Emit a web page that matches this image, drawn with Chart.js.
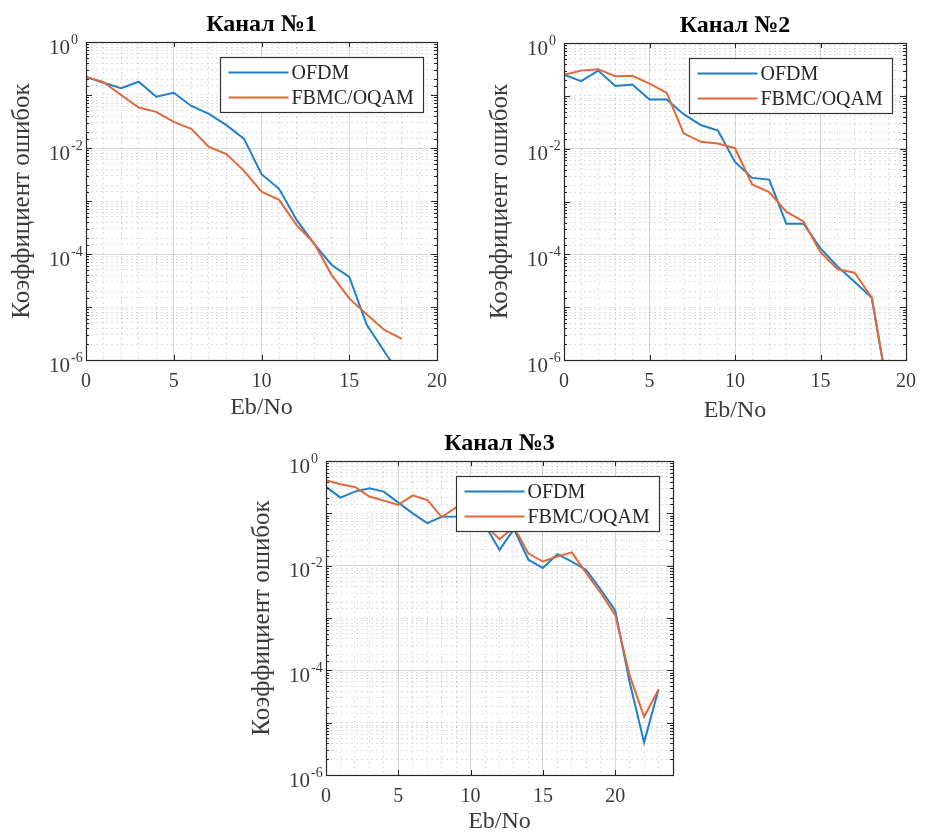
<!DOCTYPE html>
<html lang="ru">
<head>
<meta charset="utf-8">
<title>Коэффициент ошибок: OFDM и FBMC/OQAM</title>
<script src="https://cdn.jsdelivr.net/npm/chart.js@4.4.1/dist/chart.umd.min.js"></script>
<style>
  html, body { margin: 0; padding: 0; background: #fff; }
  #page { position: relative; width: 926px; height: 837px; overflow: hidden; background: #fff; }
  #page canvas { position: absolute; }
</style>
</head>
<body>
<div id="page">
  <canvas id="ch1"></canvas>
  <canvas id="ch2"></canvas>
  <canvas id="ch3"></canvas>
</div>
<script>
// ============ DATA ============
// Eb/No points (dB) and bit error rate per channel
const ebno1 = [0, 1, 2, 3, 4, 5, 6, 7, 8, 9, 10, 11, 12, 13, 14, 15, 16, 17, 18];
const ofdm1 = [0.22, 0.17, 0.134, 0.178, 0.093, 0.11, 0.062, 0.044, 0.027, 0.015, 0.0032, 0.0017,
               4.4e-4, 1.55e-4, 6.2e-5, 3.7e-5, 4.6e-6, 1.45e-6, 4.7e-7];
const fbmc1 = [0.22, 0.175, 0.1, 0.058, 0.048, 0.031, 0.023, 0.0105, 0.0077, 0.0037, 0.0015, 0.00105,
               3.5e-4, 1.6e-4, 4e-5, 1.45e-5, 7.2e-6, 3.7e-6, 2.5e-6];

const ebno2 = [0, 1, 2, 3, 4, 5, 6, 7, 8, 9, 10, 11, 12, 13, 14, 15, 16, 17, 18, 19];
const ofdm2 = [0.25, 0.19, 0.30, 0.154, 0.164, 0.085, 0.085, 0.045, 0.028, 0.022, 0.0056, 0.0028,
               0.0026, 3.8e-4, 3.8e-4, 1.3e-4, 5.9e-5, 3.0e-5, 1.5e-5, 2e-7];
const fbmc2 = [0.25, 0.30, 0.32, 0.235, 0.24, 0.17, 0.115, 0.0195, 0.0135, 0.0125, 0.0102, 0.0021,
               0.0015, 6.4e-4, 4.2e-4, 1.1e-4, 5.2e-5, 4.5e-5, 1.5e-5, 2e-7];

const ebno3 = [0, 1, 2, 3, 4, 5, 6, 7, 8, 9, 10, 11, 12, 13, 14, 15, 16, 17, 18, 19, 20, 21, 22, 23];
const ofdm3 = [0.32, 0.2, 0.26, 0.30, 0.26, 0.16, 0.1, 0.065, 0.086, 0.087, 0.09, 0.06,
               0.02, 0.05, 0.013, 0.009, 0.0166, 0.012, 0.0083, 0.0035, 0.0014, 6e-5, 4.2e-6, 4.3e-5];
const fbmc3 = [0.43, 0.36, 0.32, 0.21, 0.175, 0.145, 0.22, 0.18, 0.085, 0.13, 0.15, 0.06,
               0.032, 0.055, 0.017, 0.012, 0.015, 0.018, 0.0072, 0.003, 0.00115, 8e-5, 1.3e-5, 4.3e-5];

const seriesNames = ['OFDM', 'FBMC/OQAM'];
const yMin = 1e-6, yMax = 1;

// ============ STYLE ============
const FONT = "'Liberation Serif', 'Times New Roman', serif";
const INK = '#262626';
const LABEL = '#3a3a3a';
const BLUE = '#1f80c6';
const ORANGE = '#e0683a';
const GRID_MAJOR = 'rgba(0,0,0,0.16)';
const GRID_MINOR = 'rgba(0,0,0,0.13)';

const log10 = v => Math.log10(v);
const isDecade = v => Math.abs(log10(v) - Math.round(log10(v))) < 1e-6;
const isMajorY = v => isDecade(v) && Math.round(log10(v)) % 2 === 0;

// MATLAB-like box: inner tick marks, 10^n labels, legend and frame
const matlabAxes = {
  id: 'matlabAxes',
  afterDatasetsDraw(chart, args, opts) {
    const { ctx, chartArea: a, scales: { x, y } } = chart;
    ctx.save();

    // inner tick marks
    ctx.strokeStyle = INK;
    ctx.lineWidth = 1;
    ctx.beginPath();
    x.ticks.forEach(t => {
      if (t.value % 5 !== 0) return;
      const px = Math.round(x.getPixelForValue(t.value)) + 0.5;
      ctx.moveTo(px, a.bottom); ctx.lineTo(px, a.bottom - 5);
      ctx.moveTo(px, a.top); ctx.lineTo(px, a.top + 5);
    });
    y.ticks.forEach(t => {
      const py = Math.round(y.getPixelForValue(t.value)) + 0.5;
      const len = isDecade(t.value) ? 6 : 3;
      ctx.moveTo(a.left, py); ctx.lineTo(a.left + len, py);
      ctx.moveTo(a.right, py); ctx.lineTo(a.right - len, py);
    });
    ctx.stroke();

    // y labels as 10 with superscript exponent
    ctx.fillStyle = LABEL;
    ctx.textBaseline = 'middle';
    y.ticks.forEach(t => {
      if (!isMajorY(t.value)) return;
      const py = y.getPixelForValue(t.value);
      const xr = a.left - 16;
      ctx.font = `21px ${FONT}`;
      ctx.textAlign = 'right';
      ctx.fillText('10', xr, py + 6);
      ctx.font = `14px ${FONT}`;
      ctx.textAlign = 'left';
      ctx.fillText(String(Math.round(log10(t.value))), xr + 1, py - 2);
    });

    // legend box
    const lg = opts.legend;
    const bx = Math.round(a.right - lg.right - lg.width) + 0.5;
    const by = Math.round(a.top + lg.top) + 0.5;
    ctx.fillStyle = '#fff';
    ctx.fillRect(bx, by, lg.width, lg.height);
    ctx.strokeStyle = '#333';
    ctx.lineWidth = 1.2;
    ctx.strokeRect(bx, by, lg.width, lg.height);
    ctx.font = `20px ${FONT}`;
    ctx.textAlign = 'left';
    chart.data.datasets.forEach((ds, i) => {
      const ly = by + 15 + i * 25;
      ctx.strokeStyle = ds.borderColor;
      ctx.lineWidth = ds.borderWidth;
      ctx.beginPath();
      ctx.moveTo(bx + 8, ly); ctx.lineTo(bx + 68, ly);
      ctx.stroke();
      ctx.fillStyle = INK;
      ctx.fillText(ds.label, bx + 71, ly + 1);
    });

    // frame
    ctx.strokeStyle = INK;
    ctx.lineWidth = 1.2;
    ctx.strokeRect(Math.round(a.left) + 0.5, Math.round(a.top) + 0.5,
                   Math.round(a.right - a.left), Math.round(a.bottom - a.top));
    ctx.restore();
  }
};

// ============ CHARTS ============
function makeChart(spec) {
  const cv = document.getElementById(spec.id);
  cv.width = spec.width; cv.height = spec.height;
  cv.style.left = spec.left + 'px';
  cv.style.top = spec.top + 'px';
  cv.style.width = spec.width + 'px';
  cv.style.height = spec.height + 'px';

  const pts = ys => spec.xs.map((x, i) => ({ x, y: ys[i] }));

  return new Chart(cv.getContext('2d'), {
    type: 'line',
    data: {
      datasets: [
        { label: seriesNames[0], data: pts(spec.ofdm), borderColor: BLUE, borderWidth: 2, order: 1 },
        { label: seriesNames[1], data: pts(spec.fbmc), borderColor: ORANGE, borderWidth: 2, order: 0 },
      ]
    },
    options: {
      responsive: false,
      animation: false,
      events: [],
      layout: { padding: { left: 0, right: spec.padRight, top: 0, bottom: 0 } },
      elements: { point: { radius: 0 }, line: { tension: 0 } },
      plugins: {
        legend: { display: false },
        tooltip: { enabled: false },
        title: {
          display: true,
          text: spec.title,
          fullSize: false,
          color: '#000',
          font: { family: FONT, size: 24, weight: 'bold' },
          padding: { top: 10, bottom: 3.2 }
        },
        matlabAxes: { legend: { width: 203, height: 55, right: 14, top: 15 } }
      },
      scales: {
        x: {
          type: 'linear',
          min: 0,
          max: spec.xMax,
          afterFit: s => { s.height = spec.xAxisH; },
          ticks: {
            stepSize: 1,
            autoSkip: false,
            maxRotation: 0,
            padding: 10,
            color: LABEL,
            font: { family: FONT, size: 20 },
            callback: v => (v % 5 === 0 ? String(v) : '')
          },
          grid: {
            drawTicks: false,
            color: c => (c.tick && c.tick.value % 5 === 0 ? GRID_MAJOR : GRID_MINOR),
          },
          border: { display: false, dash: c => (c.tick && c.tick.value % 5 !== 0 ? [2, 3] : []) },
          title: {
            display: true,
            text: 'Eb/No',
            color: LABEL,
            font: { family: FONT, size: 24 },
            padding: { top: 0, bottom: 1.5 }
          }
        },
        y: {
          type: 'logarithmic',
          min: yMin,
          max: yMax,
          afterFit: s => { s.width = 86; },
          ticks: { display: false },
          grid: {
            drawTicks: false,
            color: c => (c.tick && isMajorY(c.tick.value) ? GRID_MAJOR : GRID_MINOR),
          },
          border: { display: false, dash: c => (c.tick && !isMajorY(c.tick.value) ? [2, 3] : []) },
          title: {
            display: true,
            text: 'Коэффициент ошибок',
            color: LABEL,
            font: { family: FONT, size: 25 },
            padding: { top: 7, bottom: 0 }
          }
        }
      }
    },
    plugins: [matlabAxes]
  });
}

makeChart({ id: 'ch1', left: 0, top: 0, width: 460, height: 424, padRight: 23, xAxisH: 64,
            xs: ebno1, ofdm: ofdm1, fbmc: fbmc1, xMax: 20, title: 'Канал №1' });
makeChart({ id: 'ch2', left: 478, top: 1, width: 448, height: 426, padRight: 13, xAxisH: 67,
            xs: ebno2, ofdm: ofdm2, fbmc: fbmc2, xMax: 20, title: 'Канал №2' });
makeChart({ id: 'ch3', left: 240, top: 419, width: 460, height: 419, padRight: 27, xAxisH: 63,
            xs: ebno3, ofdm: ofdm3, fbmc: fbmc3, xMax: 24, title: 'Канал №3' });
</script>
</body>
</html>
